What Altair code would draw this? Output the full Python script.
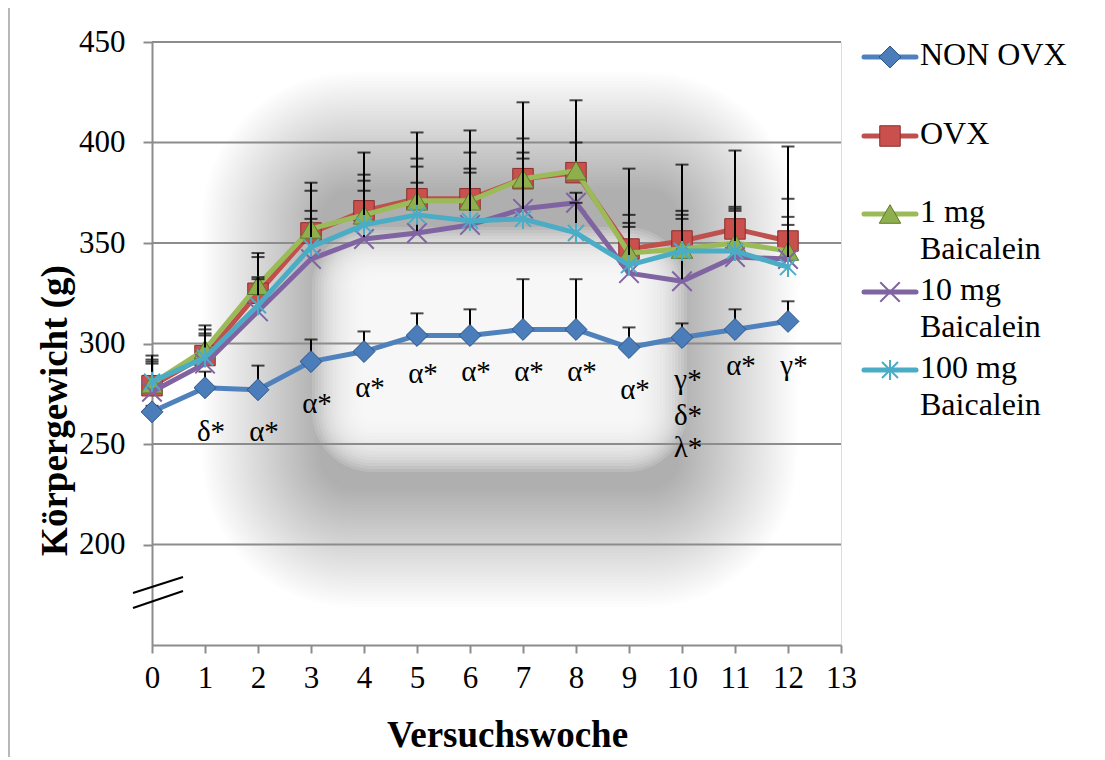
import altair as alt
import pandas as pd

# ---------------- data ----------------
weeks = list(range(13))
series_names = ["NON OVX", "OVX", "1 mg Baicalein", "10 mg Baicalein", "100 mg Baicalein"]
legend_labels = ["NON OVX", "OVX", "1 mg\nBaicalein", "10 mg\nBaicalein", "100 mg\nBaicalein"]

non_ovx = [266, 278, 277, 291, 296, 304, 304, 307, 307, 298, 303, 307, 311]
ovx = [279, 294, 325, 355, 366, 372, 372, 382, 385, 347, 351, 357, 351]
mg1 = [280, 297, 329, 357, 364, 371, 371, 382, 386, 345, 347, 350, 346]
mg10 = [276, 290, 316, 342, 352, 355, 359, 367, 370, 335, 331, 343, 342]
mg100 = [281, 293, 319, 348, 359, 364, 361, 362, 355, 339, 346, 346, 338]

non_ovx_err = [3, 8, 12, 11, 10, 11, 13, 25, 25, 10, 7, 10, 10]
ovx_err = [15, 15, 20, 25, 29, 33, 34, 38, 36, 40, 38, 39, 47]
mg1_err = [12, 10, 14, 19, 20, 21, 24, 20, 14, 19, 19, 18, 26]
mg10_err = [15, 15, 17, 24, 29, 33, 28, 28, 5, 25, 33, 24, 21]
mg100_err = [9, 11, 13, 14, 17, 16, 24, 30, 15, 19, 16, 20, 21]

ann_week = [1, 2, 3, 4, 5, 6, 7, 8, 9, 10, 10, 10, 11, 12]
ann_value = [256, 256, 270, 278, 285, 286, 286, 286, 277, 282, 264, 248, 289, 289]
ann_text = ["δ*", "α*", "α*", "α*", "α*", "α*", "α*", "α*", "α*", "γ*", "δ*", "λ*", "α*", "γ*"]

y_ticks = [200, 250, 300, 350, 400, 450]
x_ticks = list(range(14))

# ---------------- styles ----------------
line_colors = ["#4F81BD", "#C0504D", "#9BBB59", "#8064A2", "#4BACC6"]
marker_fill = ["#4A7DBA", "#C9504C", "#8FAE4E", "#8064A2", "#4BACC6"]
marker_stroke = ["#2B5489", "#8A2F2C", "#5D7A2C", "#8064A2", "#4BACC6"]
shapes = ["diamond", "square", "triangle-up",
          "M-1,-1L1,1M-1,1L1,-1",
          "M0,-1L0,1M-0.8,-0.8L0.8,0.8M-0.8,0.8L0.8,-0.8"]
filled = [True, True, True, False, False]
sizes = [480, 420, 460, 380, 400]

FONT = "Liberation Serif"
W, H = 689, 603
GRID = "#8C8C8C"

values_all = [non_ovx, ovx, mg1, mg10, mg100]
errs_all = [non_ovx_err, ovx_err, mg1_err, mg10_err, mg100_err]

rows = []
for name, vals, errs in zip(series_names, values_all, errs_all):
    for w, v, e in zip(weeks, vals, errs):
        rows.append({"series": name, "week": w, "value": v, "top": v + e})
df = pd.DataFrame(rows)

ann_df = pd.DataFrame({"week": ann_week, "value": ann_value, "text": ann_text})
grid_df = pd.DataFrame({"value": y_ticks})
one = pd.DataFrame({"a": [0]})

xs = alt.Scale(domain=[0, 13], nice=False, zero=False)
ys = alt.Scale(domain=[150, 450], nice=False, zero=False)

xaxis = alt.Axis(values=x_ticks, grid=False, domainColor=GRID, domainWidth=2,
                 tickColor=GRID, tickWidth=2, tickSize=8, labelFont=FONT,
                 labelFontSize=31, labelColor="black", labelPadding=10,
                 title="Versuchswoche", titleFont=FONT, titleFontSize=37,
                 titleFontWeight="bold", titleColor="black", titlePadding=24,
                 titleX=355, labelFlush=False)
yaxis = alt.Axis(values=y_ticks, grid=False, domainColor=GRID, domainWidth=2,
                 tickColor=GRID, tickWidth=2, tickSize=9, labelFont=FONT,
                 labelFontSize=31, labelColor="black", labelPadding=18,
                 title="Körpergewicht (g)", titleFont=FONT, titleFontSize=37,
                 titleFontWeight="bold", titleColor="black", titlePadding=4,
                 titleY=368, labelFlush=False)

X = lambda f="week": alt.X(f"{f}:Q", scale=xs, axis=xaxis)
Y = lambda f="value": alt.Y(f"{f}:Q", scale=ys, axis=yaxis)

layers = []

# soft grey glow behind the plot (stack of faint rounded rects -> smooth falloff)
OX0, OX1, OY0, OY1 = 50, 645, 30, 565   # outer extent, plot pixels
N_SH, STEP = 40, 3
for k in range(N_SH):
    t = k * STEP
    layers.append(alt.Chart(one).mark_rect(
        fill="black", opacity=0.0068, cornerRadius=max(150 - t, 20)).encode(
        x=alt.value(OX0 + t), x2=alt.value(OX1 - t),
        y=alt.value(OY0 + t), y2=alt.value(OY1 - t)))
# white inner box with soft edges
IX0, IX1, IY0, IY1 = 160, 535, 185, 430
for k in range(18):
    t = k * 3
    layers.append(alt.Chart(one).mark_rect(
        fill="white", opacity=0.14, cornerRadius=max(60 - t, 8)).encode(
        x=alt.value(IX0 + t), x2=alt.value(IX1 - t),
        y=alt.value(IY0 + t), y2=alt.value(IY1 - t)))

# gridlines
layers.append(alt.Chart(grid_df).mark_rule(color=GRID, strokeWidth=2).encode(
    y=Y("value"), x=alt.value(0), x2=alt.value(W)))

for i, name in enumerate(series_names):
    sd = df[df["series"] == name]
    base = alt.Chart(sd)
    layers.append(base.mark_line(color=line_colors[i], strokeWidth=5,
                                 strokeCap="round", strokeJoin="round").encode(
        x=X(), y=Y()))
    layers.append(base.mark_rule(color="black", strokeWidth=2).encode(
        x=X(), y=Y(), y2="top:Q"))
    layers.append(base.mark_tick(color="black", orient="horizontal", size=13,
                                 thickness=2).encode(x=X(), y=Y("top")))
    if filled[i]:
        pm = base.mark_point(shape=shapes[i], filled=True, size=sizes[i],
                             fill=marker_fill[i], stroke=marker_stroke[i],
                             strokeWidth=1, opacity=1)
    else:
        pm = base.mark_point(shape=shapes[i], filled=False, size=sizes[i],
                             stroke=marker_stroke[i], strokeWidth=2, opacity=1)
    layers.append(pm.encode(x=X(), y=Y()))

# significance annotations
layers.append(alt.Chart(ann_df).mark_text(font=FONT, fontSize=29, color="black",
                                          baseline="middle", align="center", dx=6).encode(
    x=X(), y=Y(), text="text:N"))

# axis break marks
layers.append(alt.Chart(one).mark_rule(color="black", strokeWidth=2).encode(
    x=alt.value(-19), y=alt.value(551), x2=alt.value(31), y2=alt.value(535)))
layers.append(alt.Chart(one).mark_rule(color="black", strokeWidth=2).encode(
    x=alt.value(-19), y=alt.value(566), x2=alt.value(31), y2=alt.value(549)))

# outer frame line at left
layers.append(alt.Chart(one).mark_rule(color="#A0A0A0", strokeWidth=1.5).encode(
    x=alt.value(-143), y=alt.value(-40), y2=alt.value(715)))

# legend (manual)
legend_y = [15, 94, 172, 250, 328]
for i, name in enumerate(series_names):
    ly = legend_y[i]
    layers.append(alt.Chart(one).mark_rule(color=line_colors[i], strokeWidth=5,
                                           strokeCap="round").encode(
        x=alt.value(712), x2=alt.value(764), y=alt.value(ly)))
    if filled[i]:
        pm = alt.Chart(one).mark_point(shape=shapes[i], filled=True, size=sizes[i],
                                       fill=marker_fill[i], stroke=marker_stroke[i],
                                       strokeWidth=1, opacity=1)
    else:
        pm = alt.Chart(one).mark_point(shape=shapes[i], filled=False, size=sizes[i],
                                       stroke=marker_stroke[i], strokeWidth=2, opacity=1)
    layers.append(pm.encode(x=alt.value(738), y=alt.value(ly)))
    layers.append(alt.Chart(pd.DataFrame({"t": [legend_labels[i]]})).mark_text(
        font=FONT, fontSize=32, color="black", align="left", baseline="top",
        lineBreak="\n", lineHeight=37).encode(
        x=alt.value(768), y=alt.value(ly - 17), text="t:N"))

chart = alt.layer(*layers).properties(
    width=W, height=H,
    autosize=alt.AutoSizeParams(type="none"),
    padding={"left": 144, "top": 34, "right": 250, "bottom": 114},
).configure_view(stroke=None).configure(background="white")

chart.save("out.html", embed_options={"renderer": "svg", "actions": False})
